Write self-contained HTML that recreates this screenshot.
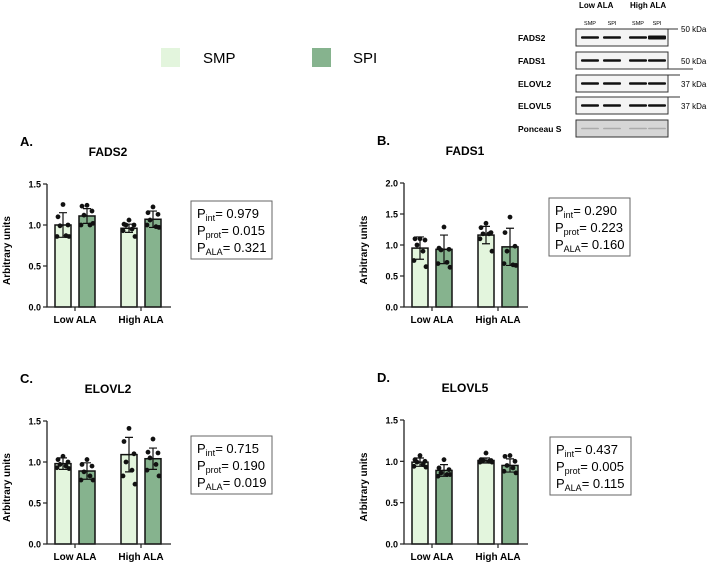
<!DOCTYPE html>
<html><head><meta charset="utf-8"><style>
body{margin:0;background:#fff;width:709px;height:563px;overflow:hidden;font-family:"Liberation Sans",Arial,sans-serif}
svg{position:absolute;left:0;top:0}
</style></head><body>
<svg id="s" width="709" height="563" xmlns="http://www.w3.org/2000/svg" font-family="Liberation Sans, Arial, sans-serif">
<g>
<rect x="161" y="48" width="19" height="19" fill="#e3f5dd"/>
<text x="203" y="63" font-size="15">SMP</text>
<rect x="312" y="48" width="19" height="19" fill="#86b38e"/>
<text x="353" y="63" font-size="15">SPI</text>
</g>
<g id="blot"></g>
</svg>
<script>
const groups=["Low ALA","High ALA"];
const titles=["FADS2","FADS1","ELOVL2","ELOVL5"];
const letters=["A.","B.","C.","D."];
const yMax=[1.5,2.0,1.5,1.5];
const yTicks=[[0,0.5,1.0,1.5],[0,0.5,1.0,1.5,2.0],[0,0.5,1.0,1.5],[0,0.5,1.0,1.5]];
const meanSMP=[[1.0,0.96],[0.95,1.16],[0.98,1.09],[0.99,1.01]];
const meanSPI=[[1.11,1.07],[0.93,0.97],[0.89,1.04],[0.89,0.95]];
const sdSMP=[[0.15,0.05],[0.18,0.14],[0.07,0.21],[0.05,0.03]];
const sdSPI=[[0.09,0.1],[0.23,0.3],[0.1,0.13],[0.07,0.08]];
const dotsSMP=[
 [[1.25,1.1,1.0,0.99,0.87,0.86,0.86],[1.06,1.01,1.0,1.0,0.95,0.93,0.86]],
 [[1.1,1.1,1.08,1.0,0.9,0.75,0.65],[1.35,1.28,1.2,1.18,1.18,1.1,0.9]],
 [[1.07,1.03,1.0,0.97,0.95,0.93,0.92],[1.41,1.25,1.1,1.0,0.9,0.83,0.73]],
 [[1.07,1.02,1.0,0.99,0.96,0.94,0.93],[1.1,1.02,1.01,1.01,1.0,0.99,0.99]]];
const dotsSPI=[
 [[1.24,1.23,1.17,1.12,1.0,1.0,1.02],[1.22,1.15,1.13,1.06,0.98,1.0,0.97]],
 [[1.29,0.95,0.93,0.92,0.72,0.7,0.64],[1.45,1.2,0.98,0.9,0.68,0.7,0.67]],
 [[1.03,0.97,0.95,0.88,0.83,0.78,0.78],[1.28,1.12,1.11,1.05,0.97,0.9,0.83]],
 [[1.02,0.92,0.9,0.86,0.84,0.82,0.84],[1.07,1.06,1.0,0.95,0.92,0.88,0.86]]];
const pLabels=[["0.979","0.015","0.321"],["0.290","0.223","0.160"],["0.715","0.190","0.019"],["0.437","0.005","0.115"]];
const blotRows=["FADS2","FADS1","ELOVL2","ELOVL5","Ponceau S"];
const kda=["50 kDa","50 kDa","37 kDa","37 kDa",""];
const lanes=["SMP","SPI","SMP","SPI"];

const NS="http://www.w3.org/2000/svg";
const svg=document.getElementById('s');
function mk(tag,attrs,parent){const e=document.createElementNS(NS,tag);for(const k in attrs)e.setAttribute(k,attrs[k]);(parent||svg).appendChild(e);return e;}
const L=[{ax:47,y0:307,y1:184,bx:191,by:201},{ax:404,y0:307,y1:183,bx:549,by:198},{ax:47,y0:544,y1:421,bx:191,by:436},{ax:404,y0:544,y1:420,bx:550,by:437}];
const jit=[0,-5,5,-3,3,-6,6];
for(let p=0;p<4;p++){
 const o=L[p];
 const g=mk('g',{});
 
 
 const Y=v=>o.y0-(v/yMax[p])*(o.y0-o.y1);
 const X=(gi,s)=>o.ax+8+gi*66+s*24;
 let t=mk('text',{x:o.ax-27,y:o.y1-38,'font-size':13,'font-weight':'bold'},g);t.textContent=letters[p];
 
 t=mk('text',{x:o.ax+61,y:o.y1-28,'font-size':12,'font-weight':'bold','text-anchor':'middle'},g);t.textContent=titles[p];
 
 t=mk('text',{x:0,y:0,'font-size':10,'font-weight':'bold','text-anchor':'middle',transform:`translate(${o.ax-37},${(o.y0+o.y1)/2+5}) rotate(-90)`},g);t.textContent='Arbitrary units';
 
 for(let gi=0;gi<2;gi++){
  [[meanSMP,sdSMP,dotsSMP,'#e3f5dd','smp'],[meanSPI,sdSPI,dotsSPI,'#86b38e','spi']].forEach((ser,s)=>{
   const m=ser[0][p][gi],sd=ser[1][p][gi];
   const x=X(gi,s),w=16;
   const r=mk('rect',{x:x,y:Y(m),width:w,height:o.y0-Y(m),fill:ser[3],stroke:'#111','stroke-width':1.5},g);
   
   const cx=x+w/2;
   const e=mk('path',{d:`M${cx},${Y(m+sd)}V${Y(m-sd)}M${cx-4},${Y(m+sd)}H${cx+4}M${cx-4},${Y(m-sd)}H${cx+4}`,stroke:'#111','stroke-width':1.2,fill:'none'},g);
   
   ser[2][p][gi].forEach((v,i)=>{
    const c=mk('circle',{cx:cx+jit[i],cy:Y(v),r:2.4,fill:'#111'},g);
    
   });
  });
  const lx=o.ax+28+gi*66;
  mk('line',{x1:lx,x2:lx,y1:o.y0,y2:o.y0+4,stroke:'#222','stroke-width':1.2},g);
  t=mk('text',{x:lx,y:o.y0+16,'font-size':10,'font-weight':'bold','text-anchor':'middle'},g);t.textContent=groups[gi];
  
 }
 const ax=mk('path',{d:`M${o.ax},${o.y1}V${o.y0}H${o.ax+124}`,stroke:'#222','stroke-width':1.3,fill:'none'},g);
 
 yTicks[p].forEach(v=>{
  mk('line',{x1:o.ax-4,x2:o.ax,y1:Y(v),y2:Y(v),stroke:'#222','stroke-width':1.2},g);
  const tt=mk('text',{x:o.ax-6,y:Y(v)+3.5,'font-size':9,'font-weight':'bold','text-anchor':'end'},g);tt.textContent=v.toFixed(1);
  
 });
 const bx=mk('rect',{x:o.bx,y:o.by,width:81,height:58,fill:'#fff',stroke:'#666','stroke-width':1},g);
 
 const subs=['int','prot','ALA'];
 subs.forEach((sname,i)=>{
  const tx=mk('text',{x:o.bx+6,y:o.by+17+i*17,'font-size':13},g);
  
  tx.innerHTML=`P<tspan font-size="9" dy="3">${sname}</tspan><tspan dy="-3">${i==0?'=  ':'= '}${pLabels[p][i]}</tspan>`;
 });
}
const b=document.getElementById('blot');
let tt=mk('text',{x:579,y:8,'font-size':8,'font-weight':'bold'},b);tt.textContent='Low ALA';

tt=mk('text',{x:630,y:8,'font-size':8,'font-weight':'bold'},b);tt.textContent='High ALA';

const lc=[590,612,638,657];
lanes.forEach((l,i)=>{const q=mk('text',{x:lc[i],y:25,'font-size':5.5,'text-anchor':'middle'},b);q.textContent=l;
 });
const rowY=[29,52,75,97,120];
blotRows.forEach((r,i)=>{
 const y=rowY[i];
 const q=mk('text',{x:518,y:y+12,'font-size':8.5,'font-weight':'bold'},b);q.textContent=r;
 
 const bx=mk('rect',{x:576,y:y,width:92,height:17,fill:i==4?'#d6d6d6':'#f4f4f4',stroke:'#333','stroke-width':1},b);
 
 lc.forEach((c,j)=>{
  const h=i==4?1.5:(i==0&&j==3?4:2.6);
  mk('rect',{x:c-9,y:y+8.5-h/2,width:18,height:h,rx:1,fill:i==4?'#aaa':'#111'},b);
 });
 if(kda[i]){const k=mk('text',{x:681,y:y+(i==0?3:12),'font-size':8},b);k.textContent=kda[i];
  }
});
mk('line',{x1:668,x2:678,y1:29,y2:29,stroke:'#333'},b);
mk('line',{x1:668,x2:693,y1:69,y2:69,stroke:'#333'},b);
mk('line',{x1:668,x2:680,y1:75,y2:75,stroke:'#333'},b);
mk('line',{x1:668,x2:680,y1:97,y2:97,stroke:'#333'},b);
</script>
</body></html>
